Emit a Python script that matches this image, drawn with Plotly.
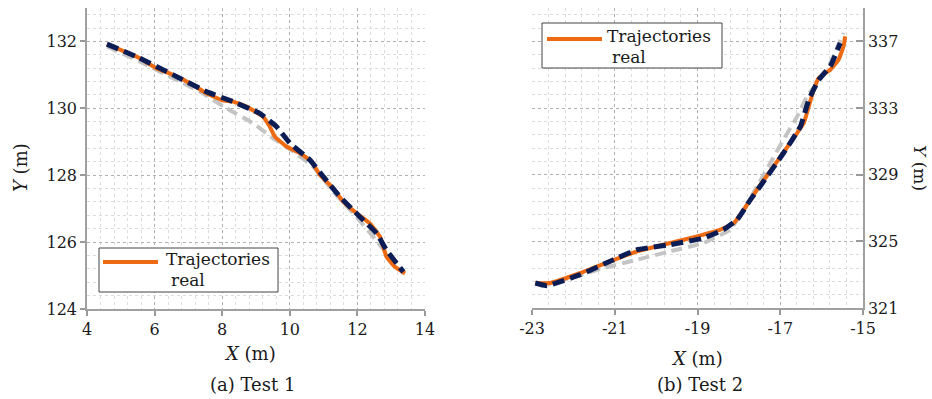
import plotly.graph_objects as go

# ---- Test 1 data ----
t1_real_x = [4.59, 5.56, 6.05, 6.55, 7.14, 7.53, 7.98, 8.32, 8.72, 9.21, 9.41, 9.56, 9.90, 10.30, 10.64, 10.89, 11.29, 11.58, 11.98, 12.37, 12.67, 12.86, 13.11, 13.41]
t1_real_y = [131.92, 131.50, 131.20, 131.00, 130.70, 130.45, 130.25, 130.20, 130.05, 129.75, 129.45, 129.15, 128.86, 128.66, 128.41, 128.01, 127.61, 127.21, 126.86, 126.56, 126.16, 125.56, 125.26, 125.06]
t1_est_x = [4.59, 5.56, 6.55, 7.53, 8.32, 9.11, 9.61, 10.00, 10.59, 10.99, 11.48, 12.07, 12.57, 12.86, 13.36]
t1_est_y = [131.92, 131.50, 131.00, 130.50, 130.20, 129.85, 129.45, 128.96, 128.46, 127.96, 127.36, 126.76, 126.26, 125.76, 125.11]
t1_ref_x = [4.59, 5.56, 6.55, 7.34, 8.13, 8.92, 9.51, 10.10, 10.69, 11.29, 11.88, 12.47, 12.86, 13.36]
t1_ref_y = [131.85, 131.40, 130.90, 130.50, 130.00, 129.55, 129.10, 128.71, 128.26, 127.51, 126.86, 126.16, 125.66, 125.06]

# ---- Test 2 data ----
t2_real_x = [-22.92, -22.56, -21.83, -21.11, -20.46, -19.66, -19.01, -18.45, -18.12, -17.88, -17.56, -17.16, -16.76, -16.43, -16.31, -16.19, -16.07, -15.79, -15.59, -15.47, -15.43]
t2_real_y = [322.5, 322.5, 323.1, 323.8, 324.4, 324.9, 325.3, 325.7, 326.1, 326.9, 328.1, 329.5, 330.9, 332.1, 333.1, 334.1, 334.8, 335.3, 335.9, 336.7, 337.3]
t2_est_x = [-22.92, -22.64, -21.83, -21.03, -20.46, -19.66, -18.85, -18.37, -18.04, -17.72, -17.40, -16.92, -16.51, -16.31, -16.07, -15.79, -15.55]
t2_est_y = [322.5, 322.34, 323.0, 323.9, 324.5, 324.8, 325.2, 325.7, 326.3, 327.5, 328.6, 330.3, 331.9, 333.5, 334.7, 335.5, 336.9]
t2_ref_x = [-22.80, -22.07, -21.27, -20.46, -19.66, -18.85, -18.21, -17.88, -17.56, -17.24, -16.92, -16.59, -16.35, -16.11, -15.79, -15.47]
t2_ref_y = [322.3, 322.8, 323.4, 323.9, 324.4, 324.9, 325.7, 326.9, 328.3, 329.7, 331.1, 332.5, 333.7, 334.5, 335.7, 337.5]

t1_xticks = [4, 6, 8, 10, 12, 14]
t1_yticks = [124, 126, 128, 130, 132]
t2_xticks = [-23, -21, -19, -17, -15]
t2_xticktext = ["-23", "-21", "-19", "-17", "-15"]
t2_yticks = [321, 325, 329, 333, 337]

legend_lines = ["Trajectories", "real"]
captions = ["(a) Test 1", "(b) Test 2"]

ORANGE = "#ee6a12"
NAVY = "#0c1d55"
GRAY = "#c4c4c4"
FONT = "DejaVu Serif"
TXT = "#1a1a1a"

fig = go.Figure()

def add_set(rx, ry, ex, ey, gx, gy, xa, ya):
    fig.add_trace(go.Scatter(x=gx, y=gy, mode="lines", xaxis=xa, yaxis=ya, showlegend=False,
                             line=dict(color=GRAY, width=4, dash="11px,6px", shape="spline", smoothing=0.3)))
    fig.add_trace(go.Scatter(x=rx, y=ry, mode="lines", xaxis=xa, yaxis=ya, showlegend=False,
                             name=" ".join(legend_lines),
                             line=dict(color=ORANGE, width=4, shape="spline", smoothing=0.3)))
    fig.add_trace(go.Scatter(x=ex, y=ey, mode="lines", xaxis=xa, yaxis=ya, showlegend=False,
                             line=dict(color=NAVY, width=5, dash="12px,6px", shape="spline", smoothing=0.3)))

add_set(t1_real_x, t1_real_y, t1_est_x, t1_est_y, t1_ref_x, t1_ref_y, "x", "y")
add_set(t2_real_x, t2_real_y, t2_est_x, t2_est_y, t2_ref_x, t2_ref_y, "x2", "y2")

W, H = 932, 399
def px(v): return v / W
def py(v): return (H - v) / H

axis_common = dict(
    showgrid=True, gridcolor="#b0b0b0", griddash="dot", gridwidth=1,
    ticks="outside", ticklen=5, tickcolor="#999999", tickwidth=1.5,
    linecolor="#a0a0a0", linewidth=1.5, zeroline=False, automargin=False,
    tickfont=dict(family=FONT, size=16, color=TXT), showline=True,
)

def minor(dt, t0):
    return dict(dtick=dt, tick0=t0, showgrid=True, gridcolor="#dcdcdc", griddash="dot", gridwidth=1)

fig.update_layout(
    width=W, height=H, margin=dict(l=0, r=0, t=0, b=0, autoexpand=False),
    plot_bgcolor="white", paper_bgcolor="white", showlegend=False,
    xaxis=dict(axis_common, domain=[px(87), px(425)], range=[4, 14], tickvals=t1_xticks,
               anchor="y", minor=minor(0.4, 4)),
    yaxis=dict(axis_common, domain=[py(309), py(8)], range=[124, 133], tickvals=t1_yticks,
               anchor="x", minor=minor(0.4, 124)),
    xaxis2=dict(axis_common, domain=[px(532), px(863)], range=[-23, -15], tickvals=t2_xticks,
                ticktext=t2_xticktext, anchor="y2", minor=minor(0.4, -23)),
    yaxis2=dict(axis_common, domain=[py(308), py(8)], range=[321, 339], tickvals=t2_yticks,
                anchor="x2", side="right", minor=minor(0.8, 321), ticks="inside", ticklen=7),
)

def note(text, x, y, angle=0, size=16, xanchor="center"):
    return dict(text=text, x=px(x), y=py(y), xref="paper", yref="paper", showarrow=False,
                xanchor=xanchor, yanchor="middle", textangle=angle,
                font=dict(family=FONT, size=size, color=TXT))

ann = [
    note("<i>X</i> (m)", 250, 353, size=18),
    note("<i>X</i> (m)", 697, 358, size=18),
    note("<i>Y</i> (m)", 20, 168, -90, size=18),
    note("<i>Y</i> (m)", 920, 168, 90, size=17),
    note(captions[0], 252, 384, size=18),
    note(captions[1], 700, 384, size=18),
]

shapes = []
# legend boxes (box left, top, right, bottom, line y, line x0, line x1, text x)
for (bx0, by0, bx1, by1, ly, lx0, lx1, tx) in [(99, 248, 278, 292, 262, 103, 158, 164),
                                                (542, 23, 722, 68, 39, 547, 602, 605)]:
    shapes.append(dict(type="rect", xref="paper", yref="paper", x0=px(bx0), x1=px(bx1),
                       y0=py(by1), y1=py(by0), fillcolor="white",
                       line=dict(color="#444444", width=1), layer="above"))
    shapes.append(dict(type="line", xref="paper", yref="paper", x0=px(lx0), x1=px(lx1),
                       y0=py(ly), y1=py(ly), line=dict(color=ORANGE, width=4), layer="above"))
    ann.append(note(legend_lines[0], tx, ly - 3, size=17, xanchor="left"))
    ann.append(note(legend_lines[1], tx + 5, ly + 18, size=17, xanchor="left"))

fig.update_layout(annotations=ann, shapes=shapes)

fig.write_html("out.html", config={"displayModeBar": False},
               post_script="document.body.style.margin='0';document.body.style.overflow='hidden';")
